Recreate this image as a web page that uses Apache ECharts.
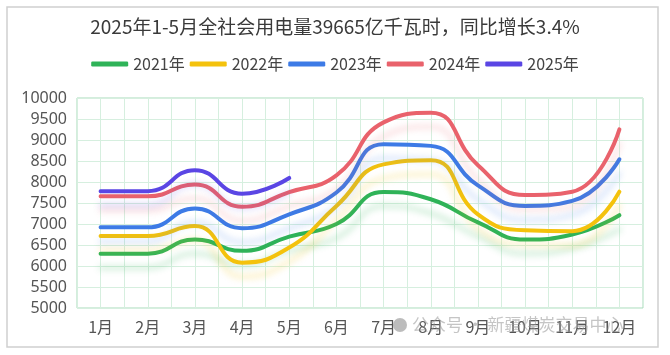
<!DOCTYPE html>
<html><head><meta charset="utf-8">
<script src="https://cdn.jsdelivr.net/npm/echarts@6/dist/echarts.min.js"></script>
<style>html,body{margin:0;padding:0;background:#fff}#c{width:670px;height:355px}</style>
</head><body><div id="c"></div>
<script>
var months = ['1月','2月','3月','4月','5月','6月','7月','8月','9月','10月','11月','12月'];
var yTicks = [5000, 10000, 500];
var y2021 = [6294, 6294, 6631, 6361, 6700, 7000, 7760, 7590, 7040, 6630, 6750, 7210];
var y2022 = [6714, 6714, 6950, 6080, 6440, 7430, 8420, 8520, 7230, 6850, 6830, 7770];
var y2023 = [6920, 6920, 7370, 6901, 7230, 7750, 8900, 8860, 7920, 7430, 7550, 8540];
var y2024 = [7658, 7658, 7941, 7412, 7760, 8160, 9420, 9650, 8400, 7690, 7770, 9254];
var y2025 = [7782, 7782, 8282, 7721, 8096];
var names = ['2021年','2022年','2023年','2024年','2025年'];
var colors = ['#2fb358','#f4c20d','#3d7be6','#e9626c','#5a46e4'];
var shadows = ['rgba(47,179,88,0.25)','rgba(244,194,13,0.25)','rgba(61,123,230,0.22)','rgba(233,98,108,0.22)','rgba(90,70,228,0.22)'];
var datas = [y2021, y2022, y2023, y2024, y2025];
var halfCats = [];
for (var i = 0; i < months.length * 2; i++) halfCats.push('h' + i);

var chart = echarts.init(document.getElementById('c'), null, {renderer: 'canvas'});
var series = names.map(function (n, i) {
  return {
    name: n, type: 'line', smooth: true, showSymbol: false, symbol: 'none',
    data: datas[i], xAxisIndex: 0,
    lineStyle: {width: 4, color: colors[i], shadowColor: shadows[i], shadowBlur: 6, shadowOffsetY: 14, cap: 'round'},
    itemStyle: {color: colors[i]}, z: 10 + i
  };
});
chart.setOption({
  animation: false,
  backgroundColor: '#fff',
  title: {text: '2025年1-5月全社会用电量39665亿千瓦时，同比增长3.4%', left: 'center', top: 12,
    textStyle: {fontSize: 19, fontWeight: 'normal', color: '#3a3a3a', fontFamily: 'Noto Sans CJK SC'}},
  legend: {data: names, top: 51, left: 'center', icon: 'roundRect', itemWidth: 37, itemHeight: 5, itemGap: 5,
    textStyle: {fontSize: 16, color: '#444', fontFamily: 'Noto Sans CJK SC'}},
  grid: {left: 77, right: 27, top: 98, bottom: 47, show: true, borderColor: '#a8dbbb', borderWidth: 1},
  xAxis: [
    {type: 'category', data: months, boundaryGap: true,
      axisLine: {show: false}, axisTick: {show: false}, splitLine: {show: false},
      axisLabel: {interval: 0, fontSize: 16, color: '#555', margin: 11, fontFamily: 'Noto Sans CJK SC'}},
    {type: 'category', data: halfCats, boundaryGap: true, position: 'bottom',
      axisLine: {show: false}, axisTick: {show: false}, axisLabel: {show: false},
      splitLine: {show: true, interval: 0, lineStyle: {color: '#d6efdf', width: 1}}}
  ],
  yAxis: {type: 'value', min: yTicks[0], max: yTicks[1], interval: yTicks[2],
    axisLine: {show: false}, axisTick: {show: false},
    splitLine: {lineStyle: {color: '#d6efdf', width: 1}},
    axisLabel: {fontSize: 16, color: '#555', margin: 10, fontFamily: 'Noto Sans',
      formatter: function (v) { return String(v); }}},
  graphic: [
    {type: 'rect', shape: {x: 7, y: 7, width: 651, height: 340}, style: {fill: 'none', stroke: '#d0d0d0', lineWidth: 1.5}, z: -1},
    {type: 'circle', shape: {cx: 400, cy: 325, r: 7}, style: {fill: 'rgba(160,160,160,0.7)'}, z: 100},
    {type: 'text', x: 412, y: 316, style: {text: '公众号 · 新疆煤炭交易中心', fontSize: 17, fill: 'rgba(150,150,150,0.55)', fontFamily: 'Noto Sans CJK SC'}, z: 100}
  ],
  series: series
});
</script></body></html>
